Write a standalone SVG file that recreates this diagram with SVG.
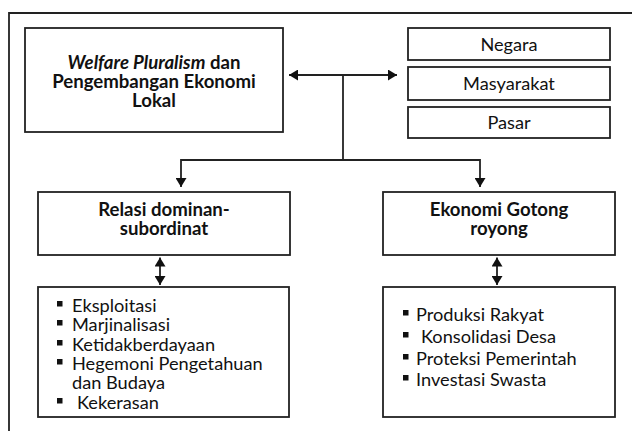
<svg xmlns="http://www.w3.org/2000/svg" width="632" height="431" viewBox="0 0 632 431">
<defs>
<marker id="ah" viewBox="0 0 9 11" refX="9" refY="5.5" markerWidth="9" markerHeight="11" markerUnits="userSpaceOnUse" orient="auto-start-reverse">
<path d="M0,0 L9,5.5 L0,11 z" fill="#111"/>
</marker>
<style>
.box{fill:#fff;stroke:#222;stroke-width:1.8}
.ln{fill:none;stroke:#222;stroke-width:1.8}
.t{font-family:Lato,"Liberation Sans",sans-serif;font-size:18.2px;fill:#111}
.b{font-weight:bold;font-size:18.6px}
.c{text-anchor:middle}
.bul{fill:#111}
</style>
</defs>
<rect width="632" height="431" fill="#fff"/>
<g id="frame"><path d="M9,431 V13 H632" class="ln" stroke-width="2"/></g>

<g id="main">
<rect class="box" x="25" y="28" width="258" height="104"/>
<text class="t b c" x="154" y="68.5"><tspan font-style="italic">Welfare Pluralism</tspan> dan</text>
<text class="t b c" x="154" y="87.5">Pengembangan Ekonomi</text>
<text class="t b c" x="154" y="106.5">Lokal</text>
</g>

<g id="negara">
<rect class="box" x="408" y="28" width="202" height="32"/>
<text class="t c" x="509" y="50.5">Negara</text>
</g>
<g id="masyarakat">
<rect class="box" x="408" y="67" width="202" height="33"/>
<text class="t c" x="509" y="90">Masyarakat</text>
</g>
<g id="pasar">
<rect class="box" x="408" y="107" width="202" height="31"/>
<text class="t c" x="509" y="129">Pasar</text>
</g>

<g id="relasi">
<rect class="box" x="38" y="192" width="252" height="63"/>
<text class="t b c" x="164" y="215.5">Relasi dominan-</text>
<text class="t b c" x="164" y="234.5">subordinat</text>
</g>
<g id="gotong">
<rect class="box" x="383" y="192" width="232" height="63"/>
<text class="t b c" x="499" y="215.5">Ekonomi Gotong</text>
<text class="t b c" x="499" y="234.5">royong</text>
</g>

<g id="list-left">
<rect class="box" x="38" y="287" width="251" height="130"/>
<rect class="bul" x="57" y="301" width="5.5" height="5.5"/>
<rect class="bul" x="57" y="320" width="5.5" height="5.5"/>
<rect class="bul" x="57" y="340" width="5.5" height="5.5"/>
<rect class="bul" x="57" y="359" width="5.5" height="5.5"/>
<rect class="bul" x="57" y="398" width="5.5" height="5.5"/>
<text class="t" x="72" y="311.5">Eksploitasi</text>
<text class="t" x="72" y="330.5">Marjinalisasi</text>
<text class="t" x="72" y="350.5">Ketidakberdayaan</text>
<text class="t" x="72" y="369.5">Hegemoni Pengetahuan</text>
<text class="t" x="72" y="389">dan Budaya</text>
<text class="t" x="77" y="408.5">Kekerasan</text>
</g>

<g id="list-right">
<rect class="box" x="383" y="287" width="232" height="130"/>
<rect class="bul" x="403" y="310" width="5.5" height="5.5"/>
<rect class="bul" x="403" y="332" width="5.5" height="5.5"/>
<rect class="bul" x="403" y="354" width="5.5" height="5.5"/>
<rect class="bul" x="403" y="375" width="5.5" height="5.5"/>
<text class="t" x="416" y="320.5">Produksi Rakyat</text>
<text class="t" x="421" y="342.5">Konsolidasi Desa</text>
<text class="t" x="416" y="364.5">Proteksi Pemerintah</text>
<text class="t" x="416" y="385.5">Investasi Swasta</text>
</g>

<g id="connectors">
<path class="ln" d="M289,75 H397" marker-start="url(#ah)" marker-end="url(#ah)"/>
<path class="ln" d="M343,75 V160"/>
<path class="ln" d="M181,187 V160 H480 V187" marker-start="url(#ah)" marker-end="url(#ah)"/>
<path class="ln" d="M160,257.5 V285" marker-start="url(#ah)" marker-end="url(#ah)"/>
<path class="ln" d="M497,257.5 V285" marker-start="url(#ah)" marker-end="url(#ah)"/>
</g>
</svg>
